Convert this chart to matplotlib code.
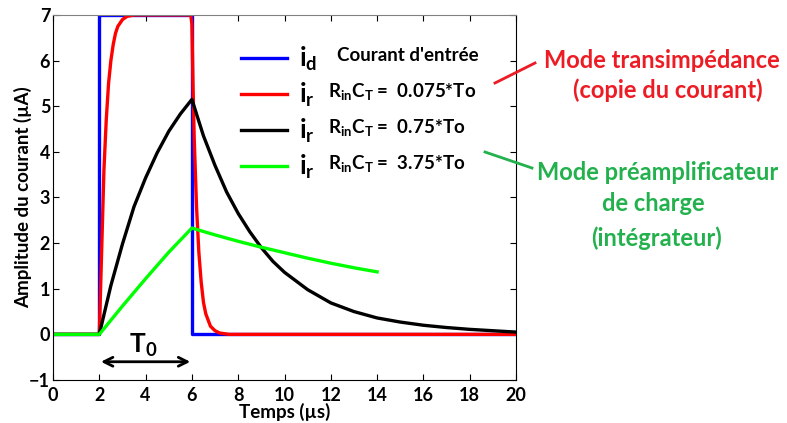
import matplotlib
matplotlib.use("Agg")
import matplotlib.pyplot as plt
from matplotlib.lines import Line2D

plt.rcParams['font.family'] = ['Lato', 'DejaVu Sans']
plt.rcParams['font.weight'] = 'bold'
plt.rcParams['axes.labelweight'] = 'bold'
plt.rcParams['mathtext.fontset'] = 'custom'
plt.rcParams['mathtext.rm'] = 'Lato:bold'
plt.rcParams['mathtext.it'] = 'Lato:bold'
plt.rcParams['mathtext.bf'] = 'Lato:bold'

# input current i_d (square pulse)
t_d = [0, 2, 2, 6, 6, 20]
i_d = [0, 0, 7, 7, 0, 0]

# i_r, RinCT = 0.075*To
t_fast = [0, 2, 2.05, 2.1, 2.2, 2.3, 2.4, 2.5, 2.6, 2.7, 2.8, 3.0, 3.2, 3.5,
          5.95, 6.0, 6.05, 6.1, 6.2, 6.3, 6.4, 6.5, 6.6, 6.8, 7.0, 7.2, 7.6, 20]
i_fast = [0, 0, 0.9, 1.8, 3.6, 4.7, 5.5, 6.0, 6.35, 6.6, 6.75, 6.9, 6.97, 7.0,
          7.0, 6.8, 5.4, 4.3, 2.8, 1.8, 1.15, 0.7, 0.45, 0.18, 0.08, 0.03, 0.0, 0.0]

# i_r, RinCT = 0.75*To
t_mid = [0, 2, 2.5, 3, 3.5, 4, 4.5, 5, 5.5, 6, 6.5, 7, 7.5, 8, 8.5, 9, 9.5, 10,
         11, 12, 13, 14, 15, 16, 17, 18, 19, 20]
i_mid = [0, 0, 1.07, 1.98, 2.8, 3.43, 3.98, 4.45, 4.83, 5.15, 4.35, 3.7, 3.12,
         2.65, 2.25, 1.9, 1.6, 1.36, 0.98, 0.69, 0.5, 0.36, 0.27, 0.2, 0.15,
         0.11, 0.08, 0.05]

# i_r, RinCT = 3.75*To
t_slow = [0, 2, 3, 4, 5, 6, 7, 8, 9, 10, 11, 12, 13, 14]
i_slow = [0, 0, 0.62, 1.22, 1.8, 2.33, 2.18, 2.04, 1.91, 1.79, 1.67, 1.56, 1.46, 1.37]

labels = [r'$\mathbf{i_d}$', r'$\mathbf{i_r}$', r'$\mathbf{i_r}$', r'$\mathbf{i_r}$']
descr = ["Courant d'entrée",
         r'$\mathbf{R_{in}C_T}$ =  0.075*To',
         r'$\mathbf{R_{in}C_T}$ =  0.75*To',
         r'$\mathbf{R_{in}C_T}$ =  3.75*To']

W, H = 787, 423
fig = plt.figure(figsize=(W / 100, H / 100), dpi=100)
ax = fig.add_axes([53 / W, 1 - 380 / H, 463 / W, 365 / H])

lw = 2.4
ax.plot(t_d, i_d, color='#0000ff', lw=lw, label=labels[0])
ax.plot(t_fast, i_fast, color='#ff0000', lw=lw, label=labels[1])
ax.plot(t_mid, i_mid, color='black', lw=lw, label=labels[2])
ax.plot(t_slow, i_slow, color='#00ff00', lw=lw, label=labels[3])

ax.set_xlim(0, 20)
ax.set_ylim(-1, 7)
ax.set_xticks(range(0, 21, 2))
ax.set_yticks(range(-1, 8))
ax.tick_params(direction='in', top=True, right=True, length=4, labelsize=13)
ax.tick_params(axis='x', pad=5)
ax.tick_params(axis='y', pad=2)
for lab in ax.get_xticklabels() + ax.get_yticklabels():
    lab.set_fontweight('bold')
ax.spines['top'].set_color('#808080')
ax.set_xlabel('Temps (µs)', fontsize=13.5, fontweight='bold', labelpad=-1)
ax.set_ylabel('Amplitude du courant (µA)', fontsize=13.5, fontweight='bold')
ax.yaxis.set_label_coords(-21 / 463, 0.5)

# T0 marker
ax.annotate('', xy=(1.95, -0.6), xytext=(6.05, -0.6),
            arrowprops=dict(arrowstyle='<->', lw=2, color='black', mutation_scale=16))
ax.text(3.9, -0.25, r'$\mathbf{T_0}$', fontsize=19, ha='center', va='center')

leg = ax.legend(loc='upper left', bbox_to_anchor=(0.405, 0.918), frameon=False,
                prop={'size': 19, 'weight': 'bold'}, handlelength=1.75, handletextpad=0.45,
                labelspacing=0.3, borderaxespad=0, borderpad=0)

fig.canvas.draw()
r = fig.canvas.get_renderer()
xs = [337, 328, 328, 328]
for line, txt, x in zip(leg.get_lines(), descr, xs):
    bb = line.get_window_extent(r)
    yc = (bb.y0 + bb.y1) / 2
    fig.text(x / W, yc / H + 0.006, txt, fontsize=13.5, fontweight='bold', ha='left', va='center')

red = '#ed1c24'
green = '#22b14c'
kw = dict(fontsize=17, fontweight='bold', ha='center', va='center')
fig.text(662 / W, 1 - 60 / H, 'Mode transimpédance', color=red, **kw)
fig.text(668 / W, 1 - 90 / H, '(copie du courant)', color=red, **kw)
fig.text(658 / W, 1 - 172 / H, 'Mode préamplificateur', color=green, **kw)
fig.text(653 / W, 1 - 203 / H, 'de charge', color=green, **kw)
fig.text(657 / W, 1 - 238 / H, '(intégrateur)', color=green, **kw)
fig.add_artist(Line2D([495 / W, 535 / W], [1 - 83 / H, 1 - 63 / H], color=red, lw=2))
fig.add_artist(Line2D([485 / W, 532 / W], [1 - 152 / H, 1 - 168 / H], color=green, lw=2))

fig.savefig('out.png', dpi=100)
